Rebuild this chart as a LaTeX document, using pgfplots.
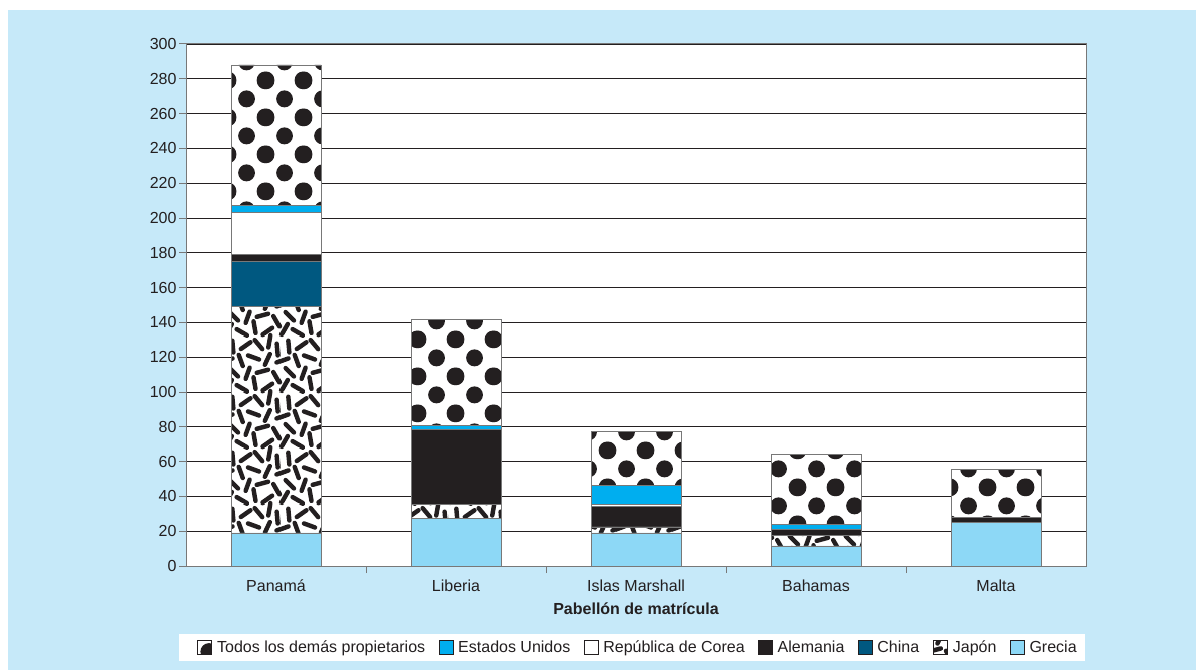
\documentclass[border=0pt]{standalone}
\usepackage{fontspec}
\setmainfont{Liberation Sans}
\usepackage{pgfplots}
\usepackage{pgfplotstable}
\pgfplotsset{compat=1.18}
\usetikzlibrary{patterns}

\definecolor{pageblue}{RGB}{198,233,249}
\definecolor{grecia}{RGB}{141,216,246}
\definecolor{eeuu}{RGB}{0,174,239}
\definecolor{china}{RGB}{0,88,128}
\definecolor{ink}{RGB}{35,31,32}
\definecolor{barline}{RGB}{120,120,120}

% large polka dots for "Todos los demás propietarios"
\pgfdeclarepatternformonly{bigdots}{\pgfpointorigin}{\pgfpoint{38pt}{36.6pt}}{\pgfpoint{38pt}{36.6pt}}{%
  \pgfpathcircle{\pgfpoint{0pt}{0pt}}{8.6pt}%
  \pgfpathcircle{\pgfpoint{38pt}{0pt}}{8.6pt}%
  \pgfpathcircle{\pgfpoint{0pt}{36.6pt}}{8.6pt}%
  \pgfpathcircle{\pgfpoint{38pt}{36.6pt}}{8.6pt}%
  \pgfpathcircle{\pgfpoint{19pt}{18.3pt}}{8.6pt}%
  \pgfusepath{fill}}

% short strokes scattered in many directions for "Japón";
% each stroke is repeated in the neighbouring tiles so that it wraps
\newcommand\stroke[3]{%
  \foreach \dx in {-56,0,56}{\foreach \dy in {-56,0,56}{%
    \pgfpathmoveto{\pgfpointadd{\pgfpoint{\dx pt}{\dy pt}}{\pgfpointadd{\pgfpoint{#1pt}{#2pt}}{\pgfpointpolar{#3}{-6pt}}}}%
    \pgfpathlineto{\pgfpointadd{\pgfpoint{\dx pt}{\dy pt}}{\pgfpointadd{\pgfpoint{#1pt}{#2pt}}{\pgfpointpolar{#3}{6pt}}}}%
    \pgfusepath{stroke}}}}
\pgfdeclarepatternformonly{confetti}{\pgfpointorigin}{\pgfpoint{56pt}{56pt}}{\pgfpoint{56pt}{56pt}}{%
  \pgfsetlinewidth{4.5pt}\pgfsetroundcap
  \stroke{5}{6}{60}\stroke{18}{3}{150}\stroke{31}{8}{100}\stroke{44}{4}{35}\stroke{53}{14}{120}%
  \stroke{10}{19}{135}\stroke{24}{18}{70}\stroke{39}{20}{15}%
  \stroke{3}{31}{20}\stroke{17}{31}{110}\stroke{30}{34}{160}\stroke{44}{32}{65}\stroke{54}{42}{95}%
  \stroke{9}{45}{95}\stroke{22}{46}{35}\stroke{35}{47}{130}\stroke{46}{50}{80}}

% million gross tons by flag of registration and owner nationality
\pgfplotstableread{
x grecia japon china alemania corea eeuu otros
0 19   130 26 4    24  4   81
1 27.5 8   0  43   0   2.5 60.5
2 19   3.5 0  11.5 1.5 11  31
3 11.5 6   0  3.3  0   3.3 40
4 25   0   0  2.7  0   0   28
}\datatable

\begin{document}
\begin{tikzpicture}[x=1pt,y=1pt]
\fill[white] (0,0) rectangle (1204,670);
\fill[pageblue] (8,0) rectangle (1196,660);
\begin{axis}[
  at={(186pt,104pt)}, anchor=south west,
  scale only axis, width=900pt, height=522pt,
  ybar stacked, bar width=0.5,
  xmin=-0.5, xmax=4.5, ymin=0, ymax=300,
  xtick={0,...,4},
  xticklabels={Panamá,Liberia,Islas Marshall,Bahamas,Malta},
  minor xtick={0.5,1.5,2.5,3.5},
  ytick={0,20,...,300},
  xtick pos=bottom, ytick pos=left,
  tick align=outside,
  major tick length=7pt, minor tick length=7pt,
  major x tick style={draw=none},
  tick style={barline, line width=1pt},
  ymajorgrids, grid style={ink, line width=0.8pt},
  axis background/.style={fill=white},
  axis line style={barline, line width=1pt},
  /pgf/number format/assume math mode=true,
  ticklabel style={font=\fontsize{16}{19}\selectfont, text=ink},
  xticklabel style={yshift=-3pt},
  yticklabel style={xshift=1pt},
  xlabel={Pabellón de matrícula},
  xlabel style={at={(axis description cs:0.5,-0.0824)}, anchor=center,
    font=\fontsize{16}{19}\selectfont\bfseries, text=ink},
  legend columns=-1,
  reverse legend,
  legend style={at={(0.4956,-0.1561)}, anchor=center, draw=none, fill=white,
    font=\fontsize{16}{19}\selectfont, text=ink,
    inner xsep=6pt, inner ysep=5pt},
  legend image code/.code={%
    \path[draw=none] (-12pt,0pt) (17pt,0pt);
    \draw[#1, draw=ink, line width=0.8pt] (0pt,-7pt) rectangle (14pt,7pt);},
  every axis plot/.append style={draw=barline, line width=0.7pt},
]
\addplot[fill=grecia] table[x=x,y=grecia]{\datatable};
\addlegendentry{Grecia}
\addplot[fill=white, postaction={pattern=confetti, pattern color=ink}] table[x=x,y=japon]{\datatable};
\addlegendentry{Japón}
\addplot[fill=china] table[x=x,y=china]{\datatable};
\addlegendentry{China}
\addplot[fill=ink] table[x=x,y=alemania]{\datatable};
\addlegendentry{Alemania}
\addplot[fill=white] table[x=x,y=corea]{\datatable};
\addlegendentry{República de Corea}
\addplot[fill=eeuu] table[x=x,y=eeuu]{\datatable};
\addlegendentry{Estados Unidos}
\addplot[fill=white, postaction={pattern=bigdots, pattern color=ink}] table[x=x,y=otros]{\datatable};
\addlegendentry{Todos los demás propietarios}
\end{axis}
\end{tikzpicture}
\end{document}
